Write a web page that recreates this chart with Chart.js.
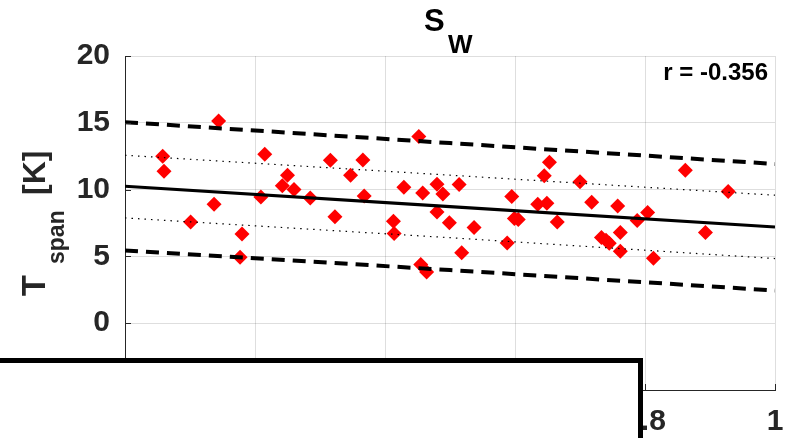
<!DOCTYPE html>
<html>
<head>
<meta charset="utf-8">
<script src="https://cdn.jsdelivr.net/npm/chart.js@4.4.1/dist/chart.umd.min.js"></script>
<style>
  html, body { margin: 0; padding: 0; background: #fff; }
  #wrap { width: 790px; height: 438px; position: relative; }
</style>
</head>
<body>
<div id="wrap"><canvas id="swChart" width="790" height="438"></canvas></div>
<script>
// S_W vs T_span: samples, regression fit and bands
var sampleX = [0.058, 0.060, 0.101, 0.137, 0.144, 0.180, 0.177, 0.209, 0.215, 0.242,
               0.250, 0.260, 0.285, 0.316, 0.323, 0.347, 0.366, 0.368, 0.413, 0.414,
               0.429, 0.452, 0.455, 0.458, 0.464, 0.480, 0.480, 0.489, 0.499, 0.514,
               0.518, 0.537, 0.588, 0.595, 0.599, 0.605, 0.635, 0.645, 0.649, 0.653,
               0.665, 0.700, 0.718, 0.733, 0.740, 0.745, 0.758, 0.762, 0.762, 0.788,
               0.804, 0.813, 0.862, 0.893, 0.928];
var sampleY = [12.50, 11.38, 7.58, 8.91, 15.14, 6.68, 4.94, 9.45, 12.65, 10.28,
               11.08, 10.01, 9.38, 12.20, 7.96, 11.08, 12.22, 9.53, 7.63, 6.71,
               10.18, 13.97, 4.39, 9.75, 3.84, 10.40, 8.33, 9.68, 7.51, 10.39,
               5.28, 7.16, 6.01, 9.48, 7.84, 7.76, 8.91, 11.03, 8.98, 12.05,
               7.58, 10.58, 9.06, 6.41, 6.21, 5.99, 8.78, 6.79, 5.39, 7.69,
               8.29, 4.87, 11.45, 6.79, 9.86];

var lineX = [0, 0.5, 1];
var fitY = [10.25, 8.72, 7.20];
var outerUpper = [15.05, 13.48, 11.92];
var outerLower = [5.45, 3.98, 2.45];
var innerUpper = [12.57, 11.08, 9.58];
var innerLower = [7.88, 6.40, 4.84];

var xTicks = [0, 0.2, 0.4, 0.6, 0.8, 1];
var yTicks = [-5, 0, 5, 10, 15, 20];
var rText = 'r = -0.356';

function pts(xs, ys) {
    return xs.map(function (x, i) { return { x: x, y: ys[i] }; });
}

function lineSet(ys, width, dash) {
    return {
        type: 'line', data: pts(lineX, ys), borderColor: '#000', borderWidth: width,
        borderDash: dash, pointRadius: 0, fill: false, tension: 0, order: 1
    };
}

var axisInk = '#262626';
var fontFam = '"Liberation Sans", Arial, sans-serif';

var decorPlugin = {
    id: 'decor',
    afterDraw: function (chart) {
        var ctx = chart.ctx, a = chart.chartArea;
        var xs = chart.scales.x, ys = chart.scales.y;
        ctx.save();
        // inward tick marks
        ctx.strokeStyle = axisInk; ctx.lineWidth = 1;
        ctx.beginPath();
        yTicks.forEach(function (v) {
            var py = Math.round(ys.getPixelForValue(v)) + 0.5;
            ctx.moveTo(a.left, py); ctx.lineTo(a.left + 6, py);
        });
        xTicks.forEach(function (v) {
            var px = Math.round(xs.getPixelForValue(v)) + 0.5;
            ctx.moveTo(px, a.bottom); ctx.lineTo(px, a.bottom - 6);
        });
        ctx.stroke();

        // title S_W
        ctx.fillStyle = '#000';
        ctx.textAlign = 'left'; ctx.textBaseline = 'alphabetic';
        ctx.font = 'bold 31px ' + fontFam;
        ctx.fillText('S', 424, 31);
        ctx.font = 'bold 26px ' + fontFam;
        ctx.fillText('W', 448, 53);

        // correlation text
        ctx.textAlign = 'right';
        ctx.font = 'bold 24px ' + fontFam;
        ctx.fillText(rText, 768, 80);

        // y label T_span [K]
        ctx.save();
        ctx.rotate(-Math.PI / 2);
        ctx.fillStyle = axisInk;
        ctx.textAlign = 'left';
        ctx.font = 'bold 34px ' + fontFam;
        ctx.fillText('T', -296, 45);
        ctx.font = 'bold 23px ' + fontFam;
        ctx.fillText('span', -264, 64);
        ctx.font = 'bold 32px ' + fontFam;
        ctx.fillText('[K]', -195, 45);
        ctx.restore();

        // covering box at the bottom left
        ctx.fillStyle = '#fff';
        ctx.fillRect(-10, 360.5, 650.5, 100);
        ctx.strokeStyle = '#000'; ctx.lineWidth = 5;
        ctx.strokeRect(-10, 360.5, 650.5, 100);
        ctx.restore();
    }
};

new Chart(document.getElementById('swChart').getContext('2d'), {
    type: 'scatter',
    data: {
        datasets: [
            {
                data: pts(sampleX, sampleY), backgroundColor: '#ff0000', borderWidth: 0,
                pointStyle: 'rectRot', pointRadius: 7.5, order: 2
            },
            lineSet(fitY, 3.2, []),
            lineSet(outerUpper, 4, [13, 8]),
            lineSet(outerLower, 4, [13, 8]),
            lineSet(innerUpper, 1.2, [1.5, 5]),
            lineSet(innerLower, 1.2, [1.5, 5])
        ]
    },
    options: {
        responsive: false, animation: false,
        layout: { padding: { left: 0, right: 15, top: 56, bottom: 0 } },
        plugins: { legend: { display: false }, tooltip: { enabled: false } },
        scales: {
            x: {
                type: 'linear', min: 0, max: 1,
                afterFit: function (s) { s.height = 48; s.paddingLeft = 0; s.paddingRight = 0; },
                afterBuildTicks: function (s) { s.ticks = xTicks.map(function (v) { return { value: v }; }); },
                grid: { color: 'rgba(0,0,0,0.13)', drawTicks: false },
                border: { color: axisInk, width: 1 },
                ticks: {
                    padding: 14, color: axisInk, maxRotation: 0,
                    font: { family: fontFam, size: 30, weight: 'bold' },
                    callback: function (v) { return String(v); }
                }
            },
            y: {
                type: 'linear', min: -5, max: 20,
                afterFit: function (s) { s.width = 125; s.paddingTop = 0; s.paddingBottom = 0; },
                afterBuildTicks: function (s) { s.ticks = yTicks.map(function (v) { return { value: v }; }); },
                grid: { color: 'rgba(0,0,0,0.13)', drawTicks: false },
                border: { color: axisInk, width: 1 },
                ticks: {
                    padding: 15, color: axisInk,
                    font: { family: fontFam, size: 30, weight: 'bold' }
                }
            }
        }
    },
    plugins: [decorPlugin]
});
</script>
</body>
</html>
